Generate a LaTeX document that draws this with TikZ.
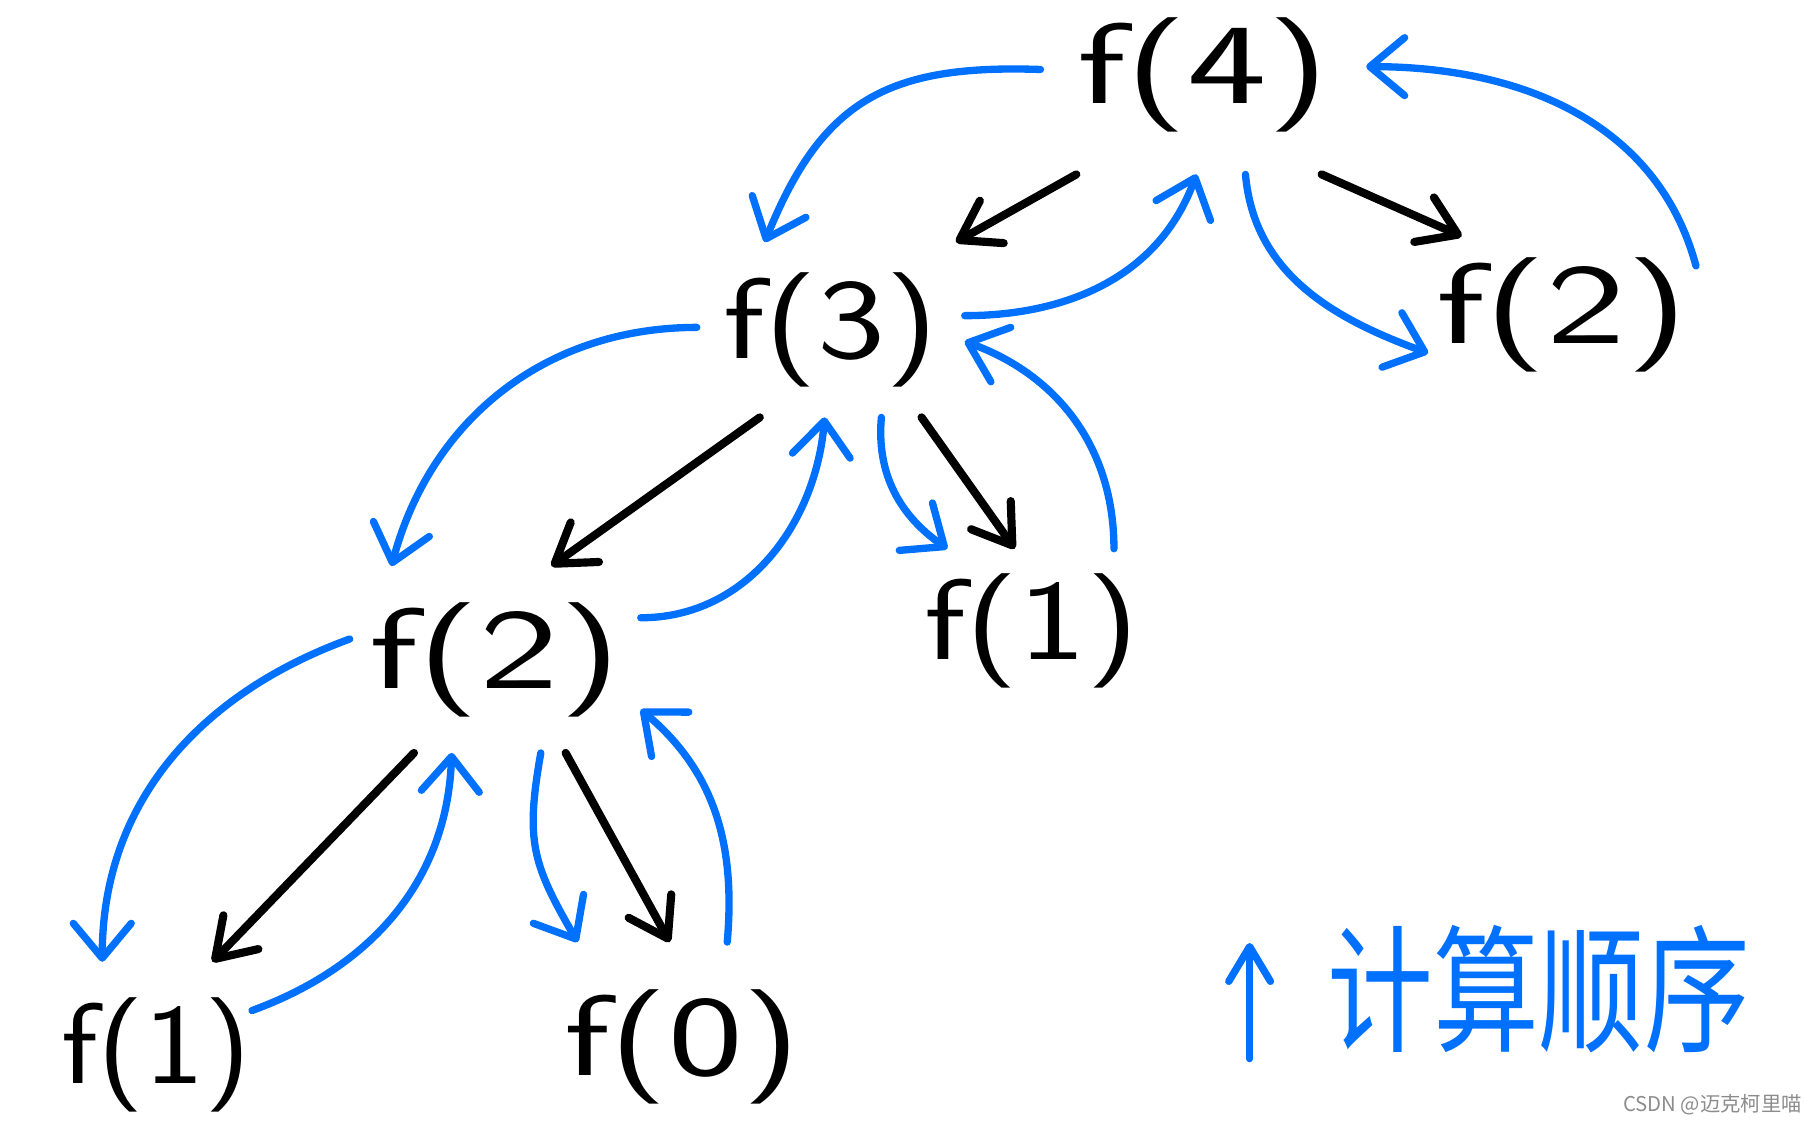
\documentclass[tikz,border=0pt]{standalone}
\usepackage{graphicx}
\usepackage{fontspec}
\newfontfamily\cjk{Noto Sans CJK SC}
\usetikzlibrary{arrows.meta}
\definecolor{penblue}{RGB}{0,112,255}
\newcommand\fcall[2][1.3]{\scalebox{#1}[0.88]{f(#2)}}

\begin{document}
\begin{tikzpicture}[x=0.01cm,y=0.01cm,
    fn/.style={inner sep=0pt,font=\sffamily\fontsize{32}{32}\selectfont},
    call/.style={line width=2pt,line cap=round,-{Straight Barb[length=3.2mm,width=4.2mm,round]}},
    order/.style={penblue,line width=1.8pt,line cap=round,-{Straight Barb[length=3mm,width=5mm,round]}}]
    \useasboundingbox (0,0) rectangle (1560,968);
    \node[fn,minimum width=2.8cm,minimum height=1.7cm] (f4) at (1040,903) {\fcall{4}};
    \node[fn,minimum width=2.3cm,minimum height=1.5cm] (f3) at (718,683) {\fcall[1.11]{3}};
    \node[fn,minimum width=2.3cm,minimum height=1.34cm] (f2r) at (1350,696) {\fcall{2}};
    \node[fn,minimum width=2.5cm,minimum height=1.6cm] (f2l) at (428,398) {\fcall{2}};
    \node[fn,minimum height=1.4cm] (f1m) at (892,423) {\fcall[1.11]{1}};
    \node[fn,minimum height=1.6cm] (f1l) at (135,56) {\fcall[0.98]{1}};
    \node[fn,minimum height=1.8cm] (f0) at (590,63) {\fcall[1.22]{0}};
    % calls
    \draw[call] (f4.218) -- (f3.35);
    \draw[call] (f4.-40) -- (f2r.142);
    \draw[call] (f3.231) -- (f2l.59);
    \draw[call] (f3.-44) -- (f1m.102);
    \draw[call] (f2l.229) -- (f1l.59);
    \draw[call] (f2l.-53) -- (f0.97);
    % order
    \draw[order] (f4.178) to[out=178,in=68,looseness=1.2] (f3.127);
    \draw[order] (f3.6) to[out=0,in=250] (f4.266);
    \draw[order] (f4.-67) to[out=-85,in=160] (f2r.196);
    \draw[order] (f2r.20) to[out=105,in=0] (f4.3);
    \draw[order] (f3.179) to[out=180,in=75] (f2l.138);
    \draw[order] (f2l.16) to[out=0,in=265] (f3.266);
    \draw[order] (f3.-60) to[out=-95,in=145] (f1m.136);
    \draw[order] (f1m.45) to[out=90,in=-20] (f3.-5);
    \draw[order] (f2l.172) to[out=200,in=90] (f1l.120);
    \draw[order] (f1l.25) to[out=20,in=268] (f2l.245);
    \draw[order] (f2l.-64) to[out=-100,in=120,looseness=1.2] (f0.135);
    \draw[order] (f0.67) to[out=85,in=-40] (f2l.-19);
    \coordinate (up0) at (1080,53);
    \coordinate (up1) at (1080,153);
    \draw[order,-{Straight Barb[length=3mm,width=3.6mm,round]}] (up0) -- (up1);
    \node[penblue,font=\cjk\fontsize{26}{26}\selectfont] (legend) at (1330,113) {\scalebox{1}[1.3]{计算顺序}};
    \node[black!45,font=\cjk\fontsize{5}{5}\selectfont] (mark) at (1480,13) {CSDN @迈克柯里喵};
\end{tikzpicture}
\end{document}
